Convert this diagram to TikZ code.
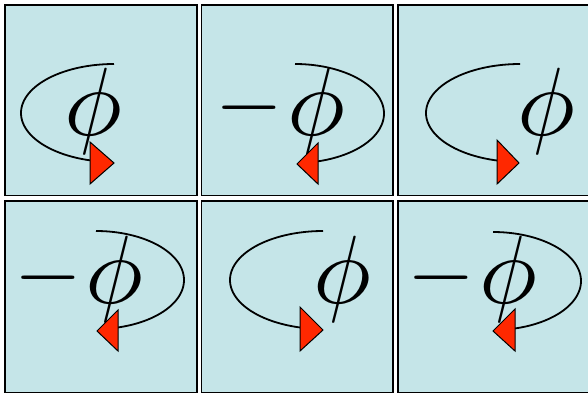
\documentclass[tikz,border=0pt]{standalone}
\definecolor{panelbg}{RGB}{197,229,232}
\definecolor{arrowred}{RGB}{255,40,0}
\tikzset{
  panel/.style={draw=black, line width=1.8pt, fill=panelbg},
  loopline/.style={line width=1.8pt},
  tri/.style={draw=black, line width=1pt, fill=arrowred, line join=miter},
  phisym/.style={inner sep=0pt, anchor=base, scale=9.7},
  minussym/.style={inner sep=0pt, anchor=center, scale=8.7},
}
\begin{document}
\begin{tikzpicture}[x=1pt,y=-1pt]
\useasboundingbox (0,0) rectangle (588,394);
\clip (0,0) rectangle (588,394);
% panels
\draw[panel] (5,5) rectangle (197,195.5);
\draw[panel] (201.5,5) rectangle (393,195.5);
\draw[panel] (398,5) rectangle (594,195.5);
\draw[panel] (5,201) rectangle (197,392.5);
\draw[panel] (201.5,201) rectangle (393,392.5);
\draw[panel] (398,201) rectangle (594,392.5);

% panel 1
\node[phisym] (phi1) at (93,135) {$\phi$};
\draw[loopline] plot[domain=-90:-255,samples=80,variable=\t] ({114+93*cos(\t)},{113+49*sin(\t)});
\draw[tri] (90,142) -- (114,163) -- (90,184) -- cycle;

% panel 2
\node[minussym] (m2) at (249,108) {$-$};
\node[phisym] (phi2) at (316,135) {$\phi$};
\draw[loopline] plot[domain=-90:75,samples=80,variable=\t] ({295+89*cos(\t)},{113.5+49.5*sin(\t)});
\draw[tri] (297,164) -- (318,143) -- (318,184) -- cycle;

% panel 3
\node[phisym] (phi3) at (546,135) {$\phi$};
\draw[loopline] plot[domain=-90:-256,samples=80,variable=\t] ({520+94*cos(\t)},{113+49*sin(\t)});
\draw[tri] (497,140) -- (519,163) -- (497,184) -- cycle;

% panel 4
\node[minussym] (m4) at (48,278) {$-$};
\node[phisym] (phi4) at (114,303) {$\phi$};
\draw[loopline] plot[domain=-90:75.5,samples=80,variable=\t] ({96+88*cos(\t)},{280+49*sin(\t)});
\draw[tri] (97,331) -- (118,310) -- (118,351) -- cycle;

% panel 5
\node[phisym] (phi5) at (342,303) {$\phi$};
\draw[loopline] plot[domain=-90:-256,samples=80,variable=\t] ({323+93*cos(\t)},{280+49*sin(\t)});
\draw[tri] (300,307) -- (323,330) -- (300,351) -- cycle;

% panel 6
\node[minussym] (m6) at (441.5,278) {$-$};
\node[phisym] (phi6) at (508,303) {$\phi$};
\draw[loopline] plot[domain=-90:75.5,samples=80,variable=\t] ({493+88*cos(\t)},{281+49*sin(\t)});
\draw[tri] (493,331) -- (515,309) -- (515,351) -- cycle;
\end{tikzpicture}
\end{document}
